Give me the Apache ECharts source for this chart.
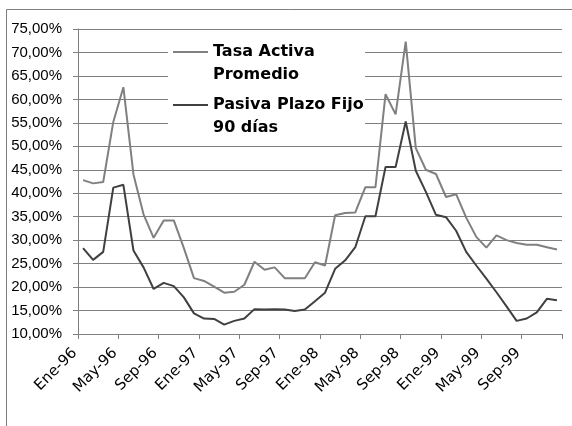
<!DOCTYPE html>
<html>
<head>
<meta charset="utf-8">
<script src="https://cdn.jsdelivr.net/npm/echarts@6/dist/echarts.min.js"></script>
<style>
  html, body { margin: 0; padding: 0; background: #fff; }
  #chart { width: 572px; height: 426px; }
</style>
</head>
<body>
<div id="chart"></div>
<script>
// Months Ene-96 .. Dic-99
const monthNames = ['Ene', 'Feb', 'Mar', 'Abr', 'May', 'Jun', 'Jul', 'Ago', 'Sep', 'Oct', 'Nov', 'Dic'];
const years = ['96', '97', '98', '99'];
const categories = [];
years.forEach(y => monthNames.forEach(m => categories.push(m + '-' + y)));

const seriesNames = ['Tasa Activa\nPromedio', 'Pasiva Plazo Fijo\n90 días'];

// Tasa activa promedio (%)
const tasaActiva = [
  42.8, 42.1, 42.4, 55.2, 62.6, 44.0, 35.5, 30.5, 34.2, 34.2, 28.3, 21.9,
  21.3, 20.1, 18.8, 19.0, 20.5, 25.4, 23.7, 24.2, 21.9, 21.9, 21.9, 25.3,
  24.6, 35.3, 35.8, 35.9, 41.3, 41.3, 61.1, 56.8, 72.3, 49.6, 45.0, 44.1,
  39.2, 39.8, 34.8, 30.7, 28.4, 31.0, 30.0, 29.4, 29.0, 29.0, 28.5, 28.0
];

// Tasa pasiva plazo fijo 90 días (%)
const pasivaPlazoFijo = [
  28.3, 25.8, 27.5, 41.2, 41.8, 27.8, 24.2, 19.6, 20.9, 20.2, 17.8, 14.4,
  13.3, 13.2, 12.0, 12.8, 13.3, 15.3, 15.2, 15.3, 15.2, 14.9, 15.2, 17.0,
  18.8, 23.9, 25.7, 28.5, 35.1, 35.1, 45.6, 45.6, 55.3, 44.8, 40.3, 35.4,
  34.9, 32.0, 27.5, 24.6, 21.8, 18.9, 15.9, 12.8, 13.3, 14.6, 17.5, 17.2
];

// Y axis: 10,00% .. 75,00%
const yMin = 10, yMax = 75, yStep = 5;
// X axis: one tick every 4 months
const xStep = 4;

// each month sits in the middle of its slot
const toPoints = arr => arr.map((v, i) => [i + 0.5, v]);

const fmtPct = v => v.toFixed(2).replace('.', ',') + '%';

const chart = echarts.init(document.getElementById('chart'), null, { renderer: 'canvas' });

// legend entries: the leading blank line keeps the key line level with the first text line
const legendText = {
  fontFamily: 'DejaVu Sans, sans-serif',
  fontWeight: 'bold',
  fontSize: 16,
  color: '#000',
  lineHeight: 22.5
};
const legendBase = {
  left: 173,
  padding: 0,
  icon: 'rect', itemWidth: 35, itemHeight: 2, itemGap: 5,
  formatter: name => '\n' + name,
  textStyle: legendText
};

chart.setOption({
  animation: false,
  backgroundColor: '#fff',
  grid: { left: 78, right: 10, top: 29, bottom: 92, containLabel: false },
  xAxis: {
    type: 'value',
    min: 0,
    max: categories.length,
    interval: xStep,
    axisLine: { show: true, lineStyle: { color: '#808080', width: 1 } },
    axisTick: { show: true, length: 5, lineStyle: { color: '#808080' } },
    splitLine: { show: false },
    axisLabel: {
      rotate: 45,
      margin: 13.5,
      padding: [0, 4.75, 9.5, 0],
      fontFamily: 'DejaVu Sans, sans-serif',
      fontSize: 15,
      color: '#000',
      showMinLabel: true,
      showMaxLabel: true,
      formatter: v => categories[v] || ''
    }
  },
  yAxis: {
    type: 'value',
    min: yMin,
    max: yMax,
    interval: yStep,
    axisLine: { show: true, lineStyle: { color: '#808080', width: 1 } },
    axisTick: { show: true, length: 5, lineStyle: { color: '#808080' } },
    splitLine: { show: true, lineStyle: { color: '#808080', width: 1 } },
    axisLabel: {
      margin: 16,
      fontFamily: 'Liberation Sans, Arial, sans-serif',
      fontSize: 15,
      color: '#000',
      formatter: fmtPct
    }
  },
  legend: [
    Object.assign({ data: [seriesNames[0]], top: 18.25 }, legendBase),
    Object.assign({ data: [seriesNames[1]], top: 71.25 }, legendBase)
  ],
  graphic: [
    {
      // chart area frame
      type: 'rect', z: 0, silent: true,
      shape: { x: 6.5, y: 9.5, width: 600, height: 450 },
      style: { fill: 'none', stroke: '#808080', lineWidth: 1 }
    },
    {
      // legend backdrop over the gridlines
      type: 'rect', z: 1, silent: true,
      shape: { x: 168, y: 40, width: 197, height: 97 },
      style: { fill: '#fff' }
    }
  ],
  series: [
    {
      name: seriesNames[0],
      type: 'line',
      data: toPoints(tasaActiva),
      showSymbol: false,
      color: '#808080',
      lineStyle: { color: '#808080', width: 2 },
      z: 3
    },
    {
      name: seriesNames[1],
      type: 'line',
      data: toPoints(pasivaPlazoFijo),
      showSymbol: false,
      color: '#404040',
      lineStyle: { color: '#404040', width: 2 },
      z: 4
    }
  ]
});
</script>
</body>
</html>
